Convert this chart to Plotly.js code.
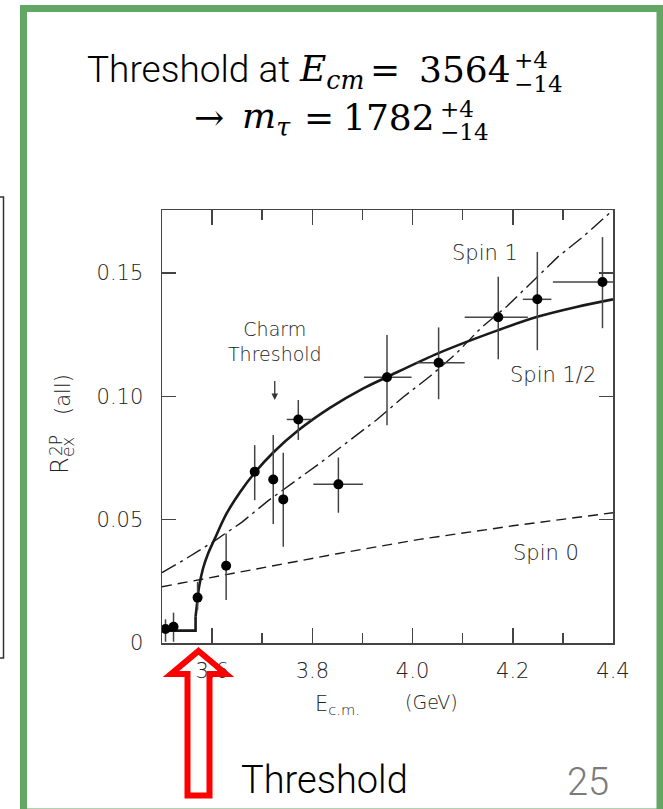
<!DOCTYPE html>
<html>
<head>
<meta charset="utf-8">
<script src="https://cdn.plot.ly/plotly-3.0.1.min.js"></script>
<style>html,body{margin:0;padding:0;background:#fff;}#chart{width:663px;height:809px;}</style>
</head>
<body>
<div id="chart"></div>
<script>
// ---- data ----
const dataE      = [3.507, 3.523, 3.571, 3.628, 3.685, 3.722, 3.742, 3.772, 3.852, 3.949, 4.052, 4.171, 4.249, 4.379];
const dataR      = [0.0057, 0.0066, 0.0184, 0.0313, 0.0694, 0.0663, 0.0582, 0.0906, 0.0643, 0.1077, 0.1136, 0.1320, 0.1393, 0.1463];
const errRplus   = [0.0039, 0.0057, 0.0064, 0.0131, 0.0108, 0.0180, 0.0189, 0.0079, 0.0109, 0.0171, 0.0143, 0.0164, 0.0192, 0.0182];
const errRminus  = [0.0052, 0.0061, 0.0050, 0.0139, 0.0115, 0.0181, 0.0192, 0.0083, 0.0115, 0.0194, 0.0148, 0.0170, 0.0206, 0.0187];
const errEplus   = [0, 0, 0, 0, 0, 0, 0, 0.027, 0.049, 0.049, 0.052, 0.059, 0.028, 0.071];
const errEminus  = [0, 0, 0, 0, 0, 0, 0, 0.023, 0.050, 0.046, 0.044, 0.067, 0.029, 0.099];

// spin 1/2 prediction: flat step below threshold, then rising curve
const spinHalfStepE = [3.500, 3.567, 3.567];
const spinHalfStepR = [0.0050, 0.0050, 0.0107];
const spinHalfE = [3.567, 3.570, 3.574, 3.582, 3.592, 3.604, 3.629, 3.656, 3.685, 3.722, 3.772, 3.835, 3.900, 3.949, 4.052, 4.171, 4.249, 4.327, 4.400];
const spinHalfR = [0.0107, 0.0161, 0.0228, 0.0303, 0.0363, 0.0417, 0.0525, 0.0612, 0.0690, 0.0772, 0.0862, 0.0953, 0.1030, 0.1078, 0.1175, 0.1268, 0.1322, 0.1362, 0.1393];

const spinOneE = [3.500, 3.543, 3.602, 3.659, 3.712, 3.765, 3.816, 3.871, 3.928, 3.981, 4.038, 4.086, 4.137, 4.189, 4.239, 4.290, 4.340, 4.387, 4.400];
const spinOneR = [0.0285, 0.0336, 0.0410, 0.0489, 0.0577, 0.0654, 0.0730, 0.0816, 0.0904, 0.0996, 0.1086, 0.1171, 0.1278, 0.1366, 0.1464, 0.1565, 0.1646, 0.1730, 0.1755];

const spinZeroE = [3.500, 3.715, 3.850, 4.014, 4.200, 4.400];
const spinZeroR = [0.0228, 0.0309, 0.0362, 0.0420, 0.0475, 0.0528];

const xTickVals = [3.6, 3.8, 4.0, 4.2, 4.4];
const xTickText = ['3.6', '3.8', '4.0', '4.2', '4.4'];
const yTickVals = [0, 0.05, 0.10, 0.15];
const yTickText = ['0', '0.05', '0.10', '0.15'];

// ---- layout helpers (pixel -> paper) ----
const L = 162, R = 613, T = 210, B = 643, W = 663, H = 809;
const PX = p => (p - L) / (R - L);
const PY = p => (B - p) / (B - T);

const ink = '#1a1a1a';
const scanFont = 'DejaVu Sans';
const scanWeight = 200;
const serif = 'DejaVu Serif';
const sans = 'Roboto';
const sf = (size) => ({family: scanFont, size: size, color: '#222', weight: scanWeight});

const traces = [
  {x: spinZeroE, y: spinZeroR, mode: 'lines', line: {color: ink, width: 1.4, dash: '10px,6px'}, hoverinfo: 'skip', showlegend: false},
  {x: spinOneE, y: spinOneR, mode: 'lines', line: {color: ink, width: 1.4, dash: '16px,5px,3px,5px'}, hoverinfo: 'skip', showlegend: false},
  {x: spinHalfStepE, y: spinHalfStepR, mode: 'lines', line: {color: ink, width: 2.6}, hoverinfo: 'skip', showlegend: false},
  {x: spinHalfE, y: spinHalfR, mode: 'lines', line: {color: ink, width: 2.6, shape: 'spline', smoothing: 1}, hoverinfo: 'skip', showlegend: false},
  {x: dataE, y: dataR, mode: 'markers', marker: {color: '#000', size: 10},
   error_y: {type: 'data', symmetric: false, array: errRplus, arrayminus: errRminus, color: '#444', thickness: 1.5, width: 0},
   error_x: {type: 'data', symmetric: false, array: errEplus, arrayminus: errEminus, color: '#444', thickness: 1.5, width: 0},
   showlegend: false}
];

function ann(text, xp, yp, size, opts) {
  return Object.assign({xref: 'paper', yref: 'paper', x: PX(xp), y: PY(yp), text: text, showarrow: false,
    xanchor: 'center', yanchor: 'middle', font: sf(size)}, opts || {});
}
const blk = (family, size) => ({family: family, size: size, color: '#000'});

const annotations = [
  // title block
  ann('Threshold at', 292, 69, 37, {xanchor: 'right', font: {family: sans, size: 37, color: '#000', weight: 300}}),
  ann('<i>E</i><sub><i>cm</i></sub>', 297, 71, 36, {xanchor: 'left', font: blk(serif, 36)}),
  ann('=', 385, 69, 36, {font: blk(serif, 36)}),
  ann('3564', 513, 69, 36, {xanchor: 'right', font: blk(serif, 36)}),
  ann('+4', 512, 60, 23, {xanchor: 'left', font: blk(serif, 23)}),
  ann('\u221214', 512, 84, 23, {xanchor: 'left', font: blk(serif, 23)}),
  ann('\u2192', 209, 117, 36, {font: blk(serif, 36)}),
  ann('<i>m</i><sub><i>\u03c4</i></sub>', 240, 119, 36, {xanchor: 'left', font: blk(serif, 36)}),
  ann('=', 319, 117, 36, {font: blk(serif, 36)}),
  ann('1782', 437, 117, 36, {xanchor: 'right', font: blk(serif, 36)}),
  ann('+4', 438, 109, 23, {xanchor: 'left', font: blk(serif, 23)}),
  ann('\u221214', 438, 132, 23, {xanchor: 'left', font: blk(serif, 23)}),
  // curve labels
  {xref: 'x', yref: 'y', x: 4.145, y: 0.158, text: 'Spin 1', showarrow: false, font: sf(21)},
  {xref: 'x', yref: 'y', x: 4.28, y: 0.1086, text: 'Spin 1/2', showarrow: false, font: sf(21)},
  {xref: 'x', yref: 'y', x: 4.267, y: 0.0363, text: 'Spin 0', showarrow: false, font: sf(21)},
  {xref: 'x', yref: 'y', x: 3.725, y: 0.0985, ax: 0, ay: -58, text: 'Charm<br>Threshold', showarrow: true,
   arrowhead: 2, arrowsize: 1, arrowwidth: 1.3, arrowcolor: '#333', startstandoff: 14, font: sf(19)},
  // axis titles
  ann('R', 60, 466, 24, {textangle: -90}),
  ann('2P', 56, 446, 17, {textangle: -90}),
  ann('ex', 68, 447, 17, {textangle: -90}),
  ann('(all)', 63, 395, 21, {textangle: -90}),
  ann('E<sub>c.m.</sub>', 337, 705, 21),
  ann('(GeV)', 431, 702, 19),
  // footer
  ann('Threshold', 239, 780, 38, {xanchor: 'left', font: {family: sans, size: 38, color: '#000', weight: 300}}),
  ann('25', 611, 782, 38, {xanchor: 'right', font: {family: sans, size: 38, color: '#7a7a7a', weight: 300}})
];

function path(pts) {
  return 'M ' + pts.map(p => PX(p[0]).toFixed(5) + ',' + PY(p[1]).toFixed(5)).join(' L ') + ' Z';
}

const shapes = [
  // green slide frame
  {type: 'rect', xref: 'paper', yref: 'paper', x0: PX(23.5), x1: PX(660), y0: PY(8.5), y1: PY(812),
   line: {color: '#64a664', width: 7}, layer: 'below'},
  // fragment of neighbouring figure at left edge
  {type: 'rect', xref: 'paper', yref: 'paper', x0: PX(-6), x1: PX(3.5), y0: PY(197), y1: PY(658),
   line: {color: '#333', width: 1.5}, layer: 'below'},
  // red hollow arrow
  {type: 'path', xref: 'paper', yref: 'paper',
   path: path([[198.5, 651], [226, 674], [209.5, 674], [209.5, 795.5], [187.5, 795.5], [187.5, 674], [171, 674]]),
   line: {color: '#ff0000', width: 6}, fillcolor: 'rgba(0,0,0,0)', layer: 'above'}
];

const layout = {
  width: W, height: H,
  margin: {l: L, r: W - R, t: T, b: H - B, pad: 0},
  paper_bgcolor: '#fff', plot_bgcolor: '#fff',
  showlegend: false,
  xaxis: {range: [3.5, 4.4], showgrid: false, zeroline: false, showline: true, linecolor: '#444', linewidth: 1.5,
    mirror: 'ticks', ticks: 'inside', ticklen: 15, tickwidth: 1.5, tickcolor: '#444',
    tickmode: 'array', tickvals: xTickVals, ticktext: xTickText, ticklabelstandoff: 8,
    minor: {dtick: 0.1, tick0: 3.5, ticks: 'inside', ticklen: 10, tickwidth: 1.5, tickcolor: '#444', showgrid: false},
    tickfont: sf(21)},
  yaxis: {range: [0, 0.1755], showgrid: false, zeroline: false, showline: true, linecolor: '#444', linewidth: 1.5,
    mirror: 'ticks', ticks: 'inside', ticklen: 14, tickwidth: 1.5, tickcolor: '#444',
    tickmode: 'array', tickvals: yTickVals, ticktext: yTickText, ticklabelstandoff: 13,
    tickfont: sf(21)},
  annotations: annotations,
  shapes: shapes
};

Plotly.newPlot('chart', traces, layout, {displayModeBar: false, staticPlot: true});
</script>
</body>
</html>
